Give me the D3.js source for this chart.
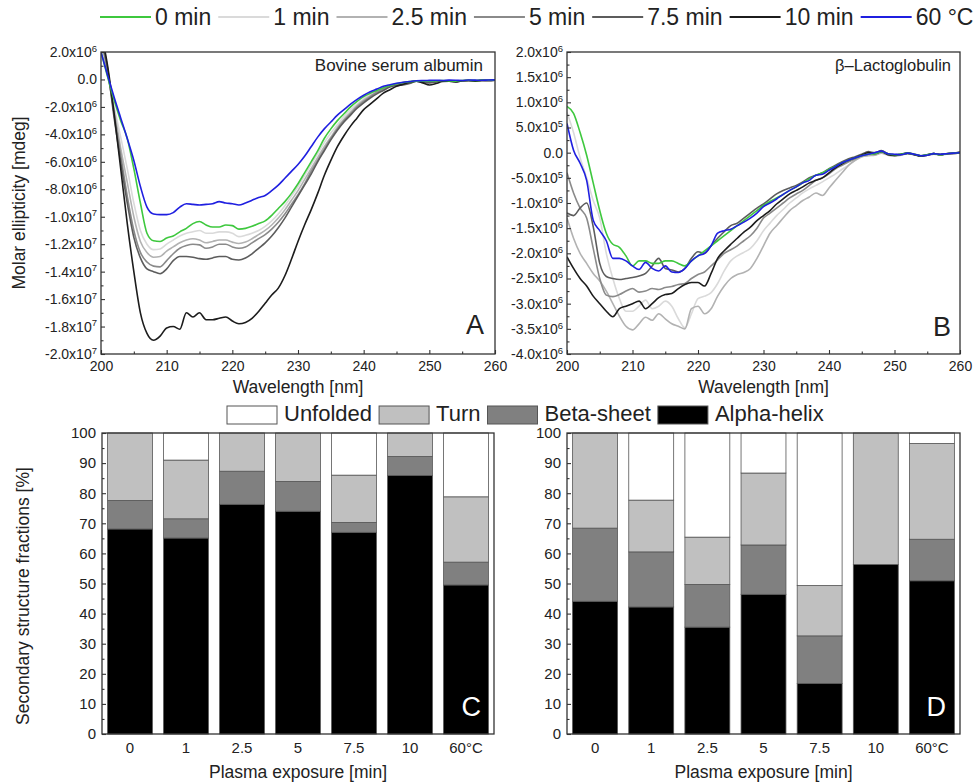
<!DOCTYPE html>
<html><head><meta charset="utf-8">
<script src="https://cdn.jsdelivr.net/npm/d3@7"></script>
<style>
body{margin:0;background:#fff;}
text{font-family:"Liberation Sans",Arial,sans-serif;fill:#222;}
</style></head><body>
<svg id="chart" width="975" height="783"></svg>
<script>
// ---------------- DATA ----------------
const wavelengths = [200,201,202,203,204,205,206,207,208,209,210,211,212,213,214,215,216,217,218,219,220,221,222,223,224,225,226,227,228,229,230,231,232,233,234,235,236,237,238,239,240,241,242,243,244,245,246,247,248,249,250,251,252,253,254,255,256,257,258,259,260];

const seriesNames = ["0 min","1 min","2.5 min","5 min","7.5 min","10 min","60 °C"];
const seriesColors = ["#3ec83e","#dadada","#b2b2b2","#8a8a8a","#5c5c5c","#1c1c1c","#1f1fe0"];

// Panel A: Bovine serum albumin (x10^6 mdeg)
const bsa0  = [2.0,0.2,-1.5,-3.0,-4.3,-6.5,-9.0,-11.2,-11.75,-11.8, -11.55,-11.4,-11.1,-10.85,-10.5,-10.35,-10.6,-10.75,-10.75,-10.6, -10.65,-10.9,-10.85,-10.7,-10.5,-10.3,-9.9,-9.4,-8.9,-8.3, -7.6,-6.8,-6.0,-5.2,-4.3,-3.6,-3.0,-2.5,-2.0,-1.6, -1.25,-1.0,-0.8,-0.6,-0.45,-0.32,-0.22,-0.16,-0.12,-0.1, -0.12,-0.1,-0.08,-0.1,-0.12,-0.08,-0.06,-0.08,-0.05,-0.06,-0.04];
const bsa1  = [2.6,0.3,-2.0,-4.2,-6.5,-9.0,-11.0,-12.0,-12.4,-12.35, -12.0,-11.7,-11.4,-11.2,-11.1,-11.0,-11.2,-11.2,-11.1,-11.1, -11.2,-11.45,-11.35,-11.2,-11.0,-10.7,-10.3,-9.8,-9.2,-8.5, -7.8,-7.0,-6.2,-5.4,-4.6,-3.9,-3.3,-2.7,-2.2,-1.8, -1.4,-1.1,-0.85,-0.65,-0.5,-0.35,-0.25,-0.17,-0.12,-0.1, -0.12,-0.09,-0.1,-0.12,-0.1,-0.08,-0.1,-0.07,-0.06,-0.07,-0.05];
const bsa25 = [3.0,0.5,-2.2,-5.0,-7.5,-10.0,-11.8,-12.6,-12.95,-12.9, -12.5,-12.2,-11.9,-11.7,-11.6,-11.7,-11.9,-11.8,-11.7,-11.7, -11.85,-11.95,-11.85,-11.6,-11.3,-11.0,-10.6,-10.1,-9.5,-8.8, -8.1,-7.3,-6.5,-5.7,-4.9,-4.2,-3.5,-2.9,-2.4,-1.9, -1.5,-1.2,-0.9,-0.7,-0.5,-0.35,-0.25,-0.18,-0.1,-0.12, -0.15,-0.12,-0.1,-0.08,-0.12,-0.1,-0.08,-0.1,-0.06,-0.07,-0.05];
const bsa5  = [3.0,0.6,-2.5,-5.5,-8.5,-11.0,-12.6,-13.3,-13.6,-13.65, -13.2,-12.7,-12.3,-12.1,-12.0,-12.05,-12.3,-12.2,-12.0,-12.0, -12.2,-12.3,-12.2,-11.9,-11.6,-11.3,-10.9,-10.4,-9.8,-9.1, -8.4,-7.6,-6.7,-5.9,-5.1,-4.3,-3.6,-3.0,-2.5,-2.0, -1.6,-1.25,-0.95,-0.7,-0.5,-0.38,-0.32,-0.25,-0.12,-0.15, -0.22,-0.15,-0.1,-0.12,-0.14,-0.1,-0.08,-0.1,-0.07,-0.08,-0.05];
const bsa75 = [3.2,0.8,-2.8,-6.0,-9.0,-11.5,-13.0,-13.8,-14.0,-14.15, -13.8,-13.2,-12.9,-12.9,-12.95,-13.05,-13.1,-13.0,-12.9,-12.9, -13.1,-13.15,-13.0,-12.7,-12.3,-11.9,-11.4,-10.8,-10.1,-9.3, -8.5,-7.7,-6.9,-6.0,-5.2,-4.4,-3.7,-3.1,-2.6,-2.1, -1.7,-1.35,-1.05,-0.8,-0.55,-0.45,-0.4,-0.3,-0.12,-0.18, -0.25,-0.18,-0.1,-0.12,-0.16,-0.1,-0.08,-0.12,-0.07,-0.08,-0.05];
const bsa10 = [3.5,1.0,-2.5,-6.5,-10.5,-14.0,-17.0,-18.5,-19.0,-18.7, -18.1,-18.0,-18.2,-17.0,-17.3,-17.0,-17.5,-17.5,-17.4,-17.3, -17.6,-17.8,-17.7,-17.4,-16.9,-16.3,-15.7,-15.2,-14.3,-13.1, -11.8,-10.6,-9.5,-8.3,-7.0,-5.9,-4.9,-4.1,-3.4,-2.8, -2.2,-1.8,-1.4,-1.0,-0.75,-0.5,-0.35,-0.2,-0.12,-0.25, -0.4,-0.3,-0.15,-0.12,-0.18,-0.1,-0.08,-0.12,-0.07,-0.08,-0.05];
const bsa60 = [2.0,0.3,-1.3,-2.8,-4.3,-5.9,-7.8,-9.3,-9.8,-9.85, -9.85,-9.7,-9.3,-9.05,-9.1,-9.15,-9.1,-9.05,-8.9,-9.0, -9.05,-9.15,-9.0,-8.8,-8.6,-8.45,-8.1,-7.7,-7.2,-6.7, -6.2,-5.6,-4.9,-4.2,-3.6,-3.1,-2.6,-2.2,-1.8,-1.45, -1.15,-0.9,-0.7,-0.5,-0.38,-0.28,-0.2,-0.15,-0.1,-0.08, -0.07,-0.06,-0.08,-0.05,-0.06,-0.08,-0.04,-0.05,-0.06,-0.04,-0.03];

// Panel B: beta-Lactoglobulin (x10^6 mdeg)
const blg0  = [0.92,0.78,0.4,-0.05,-0.6,-1.15,-1.6,-1.82,-1.88,-2.05, -2.25,-2.15,-2.15,-2.2,-2.2,-2.15,-2.15,-2.2,-2.25,-2.15, -2.05,-1.95,-1.85,-1.75,-1.65,-1.55,-1.45,-1.35,-1.25,-1.15, -1.05,-0.97,-0.9,-0.83,-0.75,-0.68,-0.6,-0.52,-0.45,-0.4, -0.33,-0.27,-0.2,-0.15,-0.1,-0.06,-0.03,-0.02,0.02,-0.02, -0.04,-0.03,-0.01,-0.03,-0.06,-0.04,-0.02,-0.04,-0.02,-0.01,0.0];
const blg1  = [0.8,0.4,-0.1,-0.5,-0.95,-1.3,-2.0,-2.5,-2.9,-3.15, -3.15,-3.05,-2.93,-3.1,-3.05,-2.95,-3.05,-3.3,-3.48,-3.2, -2.9,-2.85,-2.78,-2.6,-2.35,-2.15,-2.05,-1.98,-1.9,-1.75, -1.55,-1.4,-1.25,-1.13,-1.0,-0.9,-0.8,-0.72,-0.65,-0.58, -0.5,-0.42,-0.33,-0.25,-0.15,-0.08,-0.05,-0.04,0.0,-0.04, -0.06,-0.04,-0.02,-0.04,-0.07,-0.05,-0.03,-0.04,-0.02,-0.02,0.0];
const blg25 = [-1.3,-1.7,-2.0,-2.2,-2.4,-2.55,-2.75,-3.0,-3.25,-3.45, -3.52,-3.4,-3.27,-3.33,-3.2,-3.3,-3.4,-3.45,-3.5,-3.1, -3.05,-3.2,-3.1,-2.85,-2.65,-2.5,-2.42,-2.38,-2.3,-2.1, -1.85,-1.6,-1.45,-1.3,-1.15,-1.05,-0.95,-0.88,-0.8,-0.85, -0.7,-0.55,-0.4,-0.25,-0.15,-0.08,-0.06,-0.05,-0.01,-0.05, -0.07,-0.05,-0.02,-0.04,-0.07,-0.05,-0.03,-0.04,-0.03,-0.02,0.0];
const blg5  = [-0.4,-0.8,-1.1,-1.3,-1.9,-2.5,-2.83,-2.86,-2.82,-2.75, -2.7,-2.77,-2.75,-2.7,-2.72,-2.68,-2.66,-2.62,-2.6,-2.5, -2.42,-2.37,-2.25,-2.13,-2.0,-1.93,-1.85,-1.75,-1.65,-1.5, -1.3,-1.2,-1.1,-1.0,-0.9,-0.82,-0.75,-0.65,-0.55,-0.5, -0.42,-0.32,-0.25,-0.18,-0.12,-0.06,-0.02,-0.01,0.02,-0.03, -0.05,-0.04,-0.02,-0.03,-0.06,-0.05,-0.02,-0.04,-0.02,-0.02,0.0];
const blg75 = [-1.2,-1.25,-1.1,-1.0,-1.47,-2.2,-2.46,-2.5,-2.52,-2.5, -2.48,-2.45,-2.4,-2.25,-2.1,-2.3,-2.33,-2.37,-2.3,-2.1, -1.97,-2.0,-1.85,-1.7,-1.57,-1.45,-1.4,-1.3,-1.2,-1.1, -1.02,-0.92,-0.82,-0.75,-0.7,-0.65,-0.58,-0.5,-0.45,-0.4, -0.32,-0.25,-0.18,-0.12,-0.08,-0.03,0.02,0.0,0.04,-0.02, -0.06,-0.03,-0.01,-0.03,-0.07,-0.05,-0.02,-0.03,-0.02,-0.01,0.02];
const blg10 = [-2.07,-2.3,-2.5,-2.65,-2.85,-3.0,-3.15,-3.26,-3.1,-3.05, -3.0,-2.95,-3.1,-3.0,-2.88,-2.82,-2.8,-2.7,-2.62,-2.58, -2.58,-2.65,-2.4,-2.1,-1.95,-1.82,-1.7,-1.58,-1.48,-1.35, -1.25,-1.15,-1.02,-0.92,-0.82,-0.75,-0.68,-0.6,-0.55,-0.5, -0.4,-0.3,-0.22,-0.15,-0.1,-0.05,0.0,-0.02,0.02,-0.04, -0.05,-0.03,-0.01,-0.04,-0.07,-0.04,-0.02,-0.04,-0.02,-0.01,0.0];
const blg60 = [0.58,0.05,-0.21,-0.55,-1.34,-1.55,-1.75,-2.1,-2.1,-2.15, -2.25,-2.32,-2.18,-2.3,-2.35,-2.25,-2.37,-2.38,-2.3,-2.15, -2.05,-2.0,-1.85,-1.6,-1.55,-1.52,-1.45,-1.38,-1.3,-1.2, -1.07,-1.0,-0.92,-0.83,-0.75,-0.68,-0.6,-0.55,-0.45,-0.43, -0.35,-0.28,-0.2,-0.15,-0.1,-0.06,-0.03,0.0,0.03,-0.02, -0.03,-0.04,-0.01,-0.03,-0.06,-0.05,-0.02,-0.03,-0.02,-0.01,0.0];

const wlTicks = [200,210,220,230,240,250,260];
const wlMinor = [205,215,225,235,245,255];
const bsaTicks = [2,0,-2,-4,-6,-8,-10,-12,-14,-16,-18,-20];
const bsaTickLabels = [["2.0x10","6"],["0.0",""],["-2.0x10","6"],["-4.0x10","6"],["-6.0x10","6"],["-8.0x10","6"],["-1.0x10","7"],["-1.2x10","7"],["-1.4x10","7"],["-1.6x10","7"],["-1.8x10","7"],["-2.0x10","7"]];
const bsaMinor = [1,-1,-3,-5,-7,-9,-11,-13,-15,-17,-19];
const blgTicks = [2,1.5,1,0.5,0,-0.5,-1,-1.5,-2,-2.5,-3,-3.5,-4];
const blgTickLabels = [["2.0x10","6"],["1.5x10","6"],["1.0x10","6"],["5.0x10","5"],["0.0",""],["-5.0x10","5"],["-1.0x10","6"],["-1.5x10","6"],["-2.0x10","6"],["-2.5x10","6"],["-3.0x10","6"],["-3.5x10","6"],["-4.0x10","6"]];
const blgMinor = [1.75,1.25,0.75,0.25,-0.25,-0.75,-1.25,-1.75,-2.25,-2.75,-3.25,-3.75];

// Panels C, D: secondary structure fractions [%]
const categories = ["0","1","2.5","5","7.5","10","60°C"];
const structKeys = ["Alpha-helix","Beta-sheet","Turn","Unfolded"];
const structColors = {"Unfolded":"#ffffff","Turn":"#c0c0c0","Beta-sheet":"#808080","Alpha-helix":"#000000"};
const legendOrder = ["Unfolded","Turn","Beta-sheet","Alpha-helix"];
const bsaAlpha    = [68.1,65.1,76.3,74.0,67.0,85.9,49.5];
const bsaBeta     = [9.5,6.4,11.0,9.9,3.3,6.3,7.6];
const bsaTurn     = [22.4,19.5,12.7,16.1,15.7,7.8,21.7];
const bsaUnfolded = [0,9.0,0,0,14.0,0,21.2];
const blgAlpha    = [44.1,42.2,35.5,46.4,16.8,56.3,50.9];
const blgBeta     = [24.3,18.3,14.2,16.4,15.8,0,13.8];
const blgTurn     = [31.6,17.2,15.7,23.9,16.7,43.7,31.8];
const blgUnfolded = [0,22.3,34.6,13.3,50.7,0,3.5];
const pctTicks = [0,10,20,30,40,50,60,70,80,90,100];
const pctMinor = [5,15,25,35,45,55,65,75,85,95];

// ---------------- DRAW ----------------
const svg = d3.select("#chart");
const FRAME = "#333";
const FONT = "Liberation Sans, Arial, sans-serif";

function styleAxis(g){
  g.select(".domain").remove();
  g.selectAll(".tick line").attr("stroke",FRAME).attr("stroke-width",1.1);
}

function spectrumPanel(o){
  const x = d3.scaleLinear().domain([200,260]).range([o.x0,o.x1]);
  const y = d3.scaleLinear().domain(o.yDomain).range([o.y1,o.y0]);
  const id = "clip"+o.key;
  svg.append("clipPath").attr("id",id).append("rect")
    .attr("x",o.x0).attr("y",o.y0).attr("width",o.x1-o.x0).attr("height",o.y1-o.y0);
  const line = d3.line().x((d,i)=>x(wavelengths[i])).y(d=>y(d)).curve(d3.curveMonotoneX);
  const lg = svg.append("g").attr("clip-path",`url(#${id})`);
  o.order.forEach(k=>{
    lg.append("path").attr("d",line(o.series[k])).attr("fill","none")
      .attr("stroke",seriesColors[k]).attr("stroke-width",1.6).attr("stroke-linejoin","round");
  });
  const gx = svg.append("g").attr("transform",`translate(0,${o.y1})`)
    .call(d3.axisBottom(x).tickValues(wlTicks).tickSize(-4).tickPadding(7).tickFormat(d3.format("d")));
  styleAxis(gx);
  gx.selectAll("text").attr("font-size","14px").style("font-family",FONT).attr("fill","#222");
  const gxm = svg.append("g").attr("transform",`translate(0,${o.y1})`)
    .call(d3.axisBottom(x).tickValues(wlMinor).tickSize(-2.5).tickFormat(""));
  styleAxis(gxm);
  const labMap = new Map(o.yTicks.map((v,i)=>[v,o.yLabels[i]]));
  const gy = svg.append("g").attr("transform",`translate(${o.x0},0)`)
    .call(d3.axisLeft(y).tickValues(o.yTicks).tickSize(-4).tickPadding(4).tickFormat(""));
  styleAxis(gy);
  gy.selectAll(".tick text").each(function(d){
    const lab = labMap.get(d);
    const t = d3.select(this).attr("font-size","14px").style("font-family",FONT).attr("fill","#222");
    t.text(lab[0]);
    if(lab[1]) t.append("tspan").attr("dy","-0.55em").attr("font-size","9.5px").text(lab[1]);
  });
  const gym = svg.append("g").attr("transform",`translate(${o.x0},0)`)
    .call(d3.axisLeft(y).tickValues(o.yMinor).tickSize(-2.5).tickFormat(""));
  styleAxis(gym);
  svg.append("rect").attr("x",o.x0).attr("y",o.y0).attr("width",o.x1-o.x0).attr("height",o.y1-o.y0)
    .attr("fill","none").attr("stroke",FRAME).attr("stroke-width",1.3);
  svg.append("text").attr("x",(o.x0+o.x1)/2).attr("y",393).attr("text-anchor","middle")
    .attr("font-size","17.5px").text("Wavelength [nm]");
  svg.append("text").attr("x",o.titleX).attr("y",71).attr("text-anchor","end")
    .attr("font-size",o.titleSize).text(o.title);
  svg.append("text").attr("x",o.letterX).attr("y",o.letterY).attr("text-anchor","end")
    .attr("font-size","27px").text(o.letter);
}

spectrumPanel({key:"A",x0:101,x1:495,y0:52,y1:354,yDomain:[-20,2],
  series:[bsa0,bsa1,bsa25,bsa5,bsa75,bsa10,bsa60],order:[1,2,3,4,5,0,6],
  yTicks:bsaTicks,yLabels:bsaTickLabels,yMinor:bsaMinor,
  title:"Bovine serum albumin",titleX:483,titleSize:"17px",letter:"A",letterX:484,letterY:334});
spectrumPanel({key:"B",x0:567,x1:960,y0:52,y1:354,yDomain:[-4,2],
  series:[blg0,blg1,blg25,blg5,blg75,blg10,blg60],order:[1,2,3,4,5,0,6],
  yTicks:blgTicks,yLabels:blgTickLabels,yMinor:blgMinor,
  title:"β–Lactoglobulin",titleX:951,titleSize:"16.5px",letter:"B",letterX:951,letterY:336});

svg.append("text").attr("transform","translate(25,203) rotate(-90)").attr("text-anchor","middle")
  .attr("font-size","17.5px").text("Molar ellipticity [mdeg]");

// top legend
(function(){
  let cx = 100;
  const ly = 17;
  seriesNames.forEach((n,i)=>{
    svg.append("line").attr("x1",cx).attr("x2",cx+51).attr("y1",ly).attr("y2",ly)
      .attr("stroke",seriesColors[i]).attr("stroke-width",1.8);
    cx += 55;
    const t = svg.append("text").attr("x",cx).attr("y",ly+8).attr("font-size","23px").text(n);
    cx += t.node().getComputedTextLength() + 7;
  });
})();

// bar panels
function barPanel(o){
  const rows = categories.map((c,i)=>({cat:c,"Alpha-helix":o.alpha[i],"Beta-sheet":o.beta[i],"Turn":o.turn[i],"Unfolded":o.unfolded[i]}));
  const stacked = d3.stack().keys(structKeys)(rows);
  const x = d3.scaleBand().domain(categories).range([o.x0,o.x1]).paddingInner(0.2).paddingOuter(0.1);
  const y = d3.scaleLinear().domain([0,100]).range([o.y1,o.y0]);
  stacked.forEach(layer=>{
    svg.append("g").selectAll("rect").data(layer.filter(d=>d[1]-d[0]>0)).join("rect")
      .attr("x",d=>x(d.data.cat)).attr("width",x.bandwidth())
      .attr("y",d=>y(d[1])).attr("height",d=>y(d[0])-y(d[1]))
      .attr("fill",structColors[layer.key]).attr("stroke","#555").attr("stroke-width",0.8);
  });
  const gy = svg.append("g").attr("transform",`translate(${o.x0},0)`)
    .call(d3.axisLeft(y).tickValues(pctTicks).tickSize(-4).tickPadding(6).tickFormat(d3.format("d")));
  styleAxis(gy);
  gy.selectAll("text").attr("font-size","15px").style("font-family",FONT).attr("fill","#222");
  const gym = svg.append("g").attr("transform",`translate(${o.x0},0)`)
    .call(d3.axisLeft(y).tickValues(pctMinor).tickSize(-2.5).tickFormat(""));
  styleAxis(gym);
  const gx = svg.append("g").attr("transform",`translate(0,${o.y1})`)
    .call(d3.axisBottom(x).tickSize(0).tickPadding(8));
  styleAxis(gx);
  gx.selectAll("text").attr("font-size","15px").style("font-family",FONT).attr("fill","#222");
  svg.append("rect").attr("x",o.x0).attr("y",o.y0).attr("width",o.x1-o.x0).attr("height",o.y1-o.y0)
    .attr("fill","none").attr("stroke",FRAME).attr("stroke-width",1.3);
  svg.append("text").attr("x",(o.x0+o.x1)/2).attr("y",778).attr("text-anchor","middle")
    .attr("font-size","17.5px").text("Plasma exposure [min]");
  svg.append("text").attr("x",o.letterX).attr("y",716).attr("text-anchor","end")
    .attr("font-size","27px").style("fill","#fff").text(o.letter);
}
barPanel({x0:102,x1:494,y0:433,y1:734,alpha:bsaAlpha,beta:bsaBeta,turn:bsaTurn,unfolded:bsaUnfolded,letter:"C",letterX:481});
barPanel({x0:567,x1:960,y0:433,y1:734,alpha:blgAlpha,beta:blgBeta,turn:blgTurn,unfolded:blgUnfolded,letter:"D",letterX:946});

svg.append("text").attr("transform","translate(29,596) rotate(-90)").attr("text-anchor","middle")
  .attr("font-size","17.5px").text("Secondary structure fractions [%]");

// bottom legend
(function(){
  let cx = 227;
  legendOrder.forEach(k=>{
    svg.append("rect").attr("x",cx).attr("y",406).attr("width",50).attr("height",18)
      .attr("fill",structColors[k]).attr("stroke","#555").attr("stroke-width",1);
    cx += 57;
    const t = svg.append("text").attr("x",cx).attr("y",421).attr("font-size","22px").text(k);
    cx += t.node().getComputedTextLength() + 7;
  });
})();
</script>
</body></html>
